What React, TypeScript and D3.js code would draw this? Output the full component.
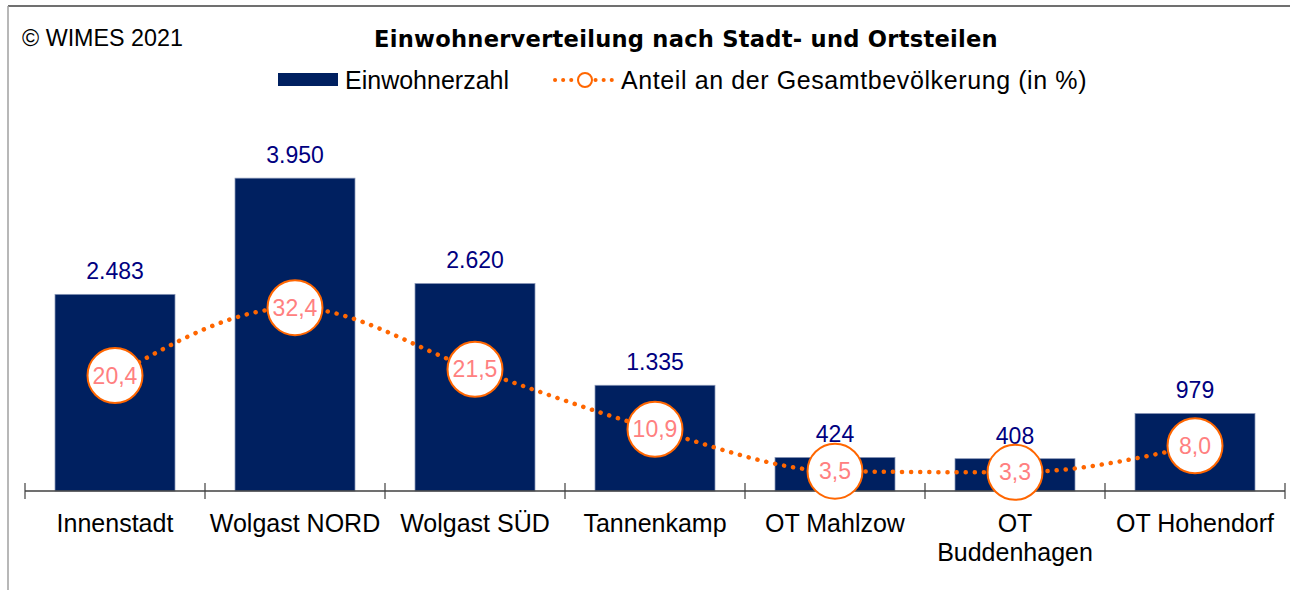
import React from "react";
import * as d3 from "d3";

const categories: string[][] = [
  ["Innenstadt"],
  ["Wolgast NORD"],
  ["Wolgast SÜD"],
  ["Tannenkamp"],
  ["OT Mahlzow"],
  ["OT", "Buddenhagen"],
  ["OT Hohendorf"],
];
const population: number[] = [2483, 3950, 2620, 1335, 424, 408, 979];
const share: number[] = [20.4, 32.4, 21.5, 10.9, 3.5, 3.3, 8.0];

const titleText = "Einwohnerverteilung nach Stadt- und Ortsteilen";
const copyrightText = "© WIMES 2021";
const legendBar = "Einwohnerzahl";
const legendLine = "Anteil an der Gesamtbevölkerung (in %)";

const W = 1290;
const H = 590;
const FONT = "Tahoma, 'Liberation Sans', Arial, sans-serif";
const TITLE_FONT = "Tahoma, 'DejaVu Sans', Verdana, sans-serif";
const BAR = "#002060";
const ORANGE = "#FF6600";

const fmtInt = (v: number) => d3.format(",")(v).replace(/,/g, ".");
const fmtPct = (v: number) => d3.format(".1f")(v).replace(".", ",");

export default function App() {
  const keys = categories.map((c) => c.join(" "));
  const x = d3
    .scaleBand<string>()
    .domain(keys)
    .range([25, 1285])
    .paddingInner(1 / 3)
    .paddingOuter(1 / 6);
  const step = x.step();
  const y = d3.scaleLinear().domain([0, 5000]).range([491, 95]);
  const y2 = d3.scaleLinear().domain([0, 70]).range([491, 95]);
  const baseY = y(0);

  const pts: [number, number][] = share.map((s, i) => [
    (x(keys[i]) as number) + x.bandwidth() / 2,
    y2(s),
  ]);
  const line = d3
    .line<[number, number]>()
    .x((d) => d[0])
    .y((d) => d[1])
    .curve(d3.curveMonotoneX);

  const ticks = d3.range(keys.length + 1).map((i) => 25 + i * step);

  return (
    <svg
      width={W}
      height={H}
      style={{ position: "absolute", left: 0, top: 0, background: "#fff" }}
      fontFamily={FONT}
    >
      <rect x={0} y={0} width={W} height={H} fill="#fff" />
      <line x1={8} y1={6} x2={W} y2={6} stroke="#404040" strokeWidth={1.5} />
      <line x1={8} y1={6} x2={8} y2={H} stroke="#a0a0a0" strokeWidth={1.5} />

      <text x={22} y={46} fontSize={23.3} fill="#000">
        {copyrightText}
      </text>
      <text
        x={686}
        y={47}
        fontSize={22.6}
        letterSpacing={0.25}
        fontFamily={TITLE_FONT}
        fontWeight="bold"
        textAnchor="middle"
        fill="#000"
      >
        {titleText}
      </text>

      {/* legend */}
      <rect x={278} y={73} width={60} height={13} fill={BAR} />
      <text x={345} y={89} fontSize={25} fill="#000">
        {legendBar}
      </text>
      <line
        x1={555}
        y1={80}
        x2={615}
        y2={80}
        stroke={ORANGE}
        strokeWidth={4}
        strokeLinecap="round"
        strokeDasharray="0.1 8"
      />
      <circle cx={585} cy={80} r={7} fill="#fff" stroke={ORANGE} strokeWidth={2} />
      <text x={621} y={89} fontSize={25} letterSpacing={0.6} fill="#000">
        {legendLine}
      </text>

      {/* bars */}
      {population.map((v, i) => (
        <g key={keys[i]}>
          <rect
            x={x(keys[i])}
            y={y(v)}
            width={x.bandwidth()}
            height={baseY - y(v)}
            fill={BAR}
            stroke="#8a97b8"
            strokeWidth={0.75}
          />
          <text
            x={(x(keys[i]) as number) + x.bandwidth() / 2}
            y={y(v) - 15}
            fontSize={23}
            textAnchor="middle"
            fill="#000080"
          >
            {fmtInt(v)}
          </text>
        </g>
      ))}

      {/* axis */}
      <line x1={25} y1={baseY} x2={1285} y2={baseY} stroke="#404040" strokeWidth={1.5} />
      {ticks.map((t) => (
        <line key={t} x1={t} y1={483} x2={t} y2={499} stroke="#404040" strokeWidth={1.2} />
      ))}
      {categories.map((lines, i) => (
        <text
          key={keys[i]}
          x={(x(keys[i]) as number) + x.bandwidth() / 2}
          y={532}
          fontSize={25}
          textAnchor="middle"
          fill="#000"
        >
          {lines.map((l, j) => (
            <tspan key={j} x={(x(keys[i]) as number) + x.bandwidth() / 2} dy={j === 0 ? 0 : 29}>
              {l}
            </tspan>
          ))}
        </text>
      ))}

      {/* line series */}
      <path
        d={line(pts) || ""}
        fill="none"
        stroke={ORANGE}
        strokeWidth={4.5}
        strokeLinecap="round"
        strokeDasharray="0.1 9"
      />
      {pts.map((p, i) => (
        <g key={"c" + i}>
          <circle cx={p[0]} cy={p[1]} r={27.5} fill="#fff" stroke={ORANGE} strokeWidth={2} />
          <text
            x={p[0]}
            y={p[1]}
            dy="0.35em"
            fontSize={23}
            textAnchor="middle"
            fill="#FF8080"
          >
            {fmtPct(share[i])}
          </text>
        </g>
      ))}
    </svg>
  );
}
